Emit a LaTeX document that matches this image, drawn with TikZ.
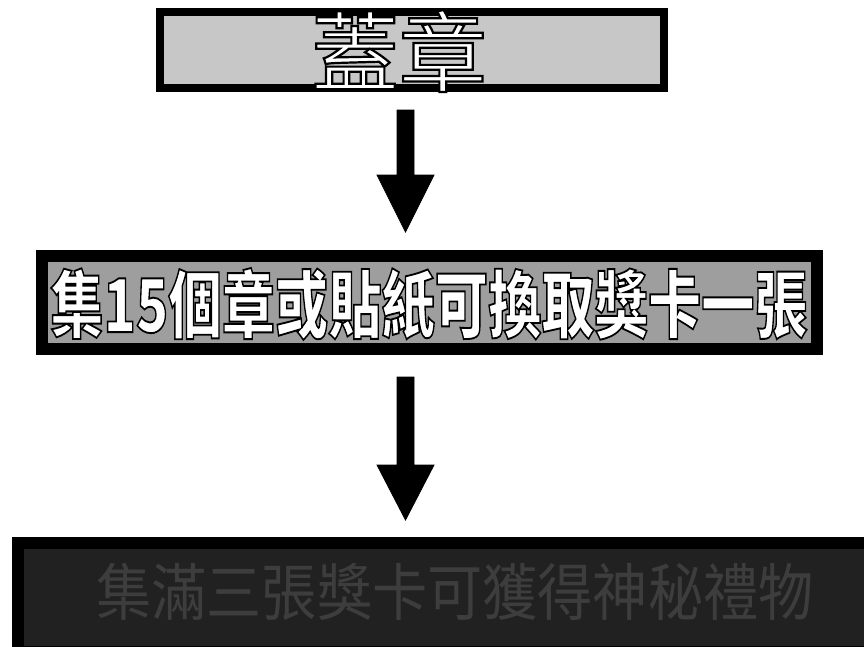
\documentclass[tikz,border=0pt]{standalone}
\usepackage{fontspec}
\usepackage{graphicx}
\newfontfamily\cjkout{Noto Sans CJK TC}[FakeBold=2.5]
\newfontfamily\cjkplain{Noto Sans CJK TC}
\newcommand\strokeblack{\special{pdf:literal direct 0 G}}
\usetikzlibrary{calc}
\tikzset{
  topbox/.style={draw=black, line width=8pt, fill=black!22, minimum width=504pt, minimum height=76pt, inner sep=0pt},
  midbox/.style={draw=black, line width=12pt, fill=black!38, minimum width=775pt, minimum height=93pt, inner sep=0pt},
  botbox/.style={draw=black, line width=12pt, fill=black!87, minimum width=852pt, minimum height=109pt, inner sep=0pt},
  txt/.style={inner sep=0pt, outer sep=0pt},
  blockarrow/.style={fill=black, draw=black, line width=0.8pt, line join=miter}
}
\begin{document}
\begin{tikzpicture}[x=1pt,y=-1pt]
\useasboundingbox (0,0) rectangle (864,646);
\clip (0,0) rectangle (864,646);
\fill[white] (0,0) rectangle (864,646);
% boxes
\node[topbox] (top) at (412,50) {};
\node[midbox] (mid) at (429.5,302.5) {};
\node[botbox] (bot) at (444,597.5) {};
% texts
\node[txt] (toptext) at (399,51) {\cjkout\fontsize{88}{88}\selectfont\color{white}\strokeblack 蓋章};
\node[txt] (midtext) at (429,304) {\scalebox{0.72}[1]{\cjkout\bfseries\fontsize{74}{74}\selectfont\color{white}\strokeblack 集15個章或貼紙可換取獎卡一張}};
\node[txt] (bottext) at (455,592) {\scalebox{0.89}[1]{\cjkplain\fontsize{62}{62}\selectfont\color{black!76}集滿三張獎卡可獲得神秘禮物}};
% arrows
\coordinate (a1s) at (405.5,110);
\coordinate (a1t) at (405.5,232);
\coordinate (a2s) at (405.5,377);
\coordinate (a2t) at (405.5,520);
\draw[blockarrow] ($(a1s)+(-8.5,0)$) -- ($(a1s)+(8.5,0)$) -- ($(a1t)+(8.5,-57)$) -- ($(a1t)+(28.5,-57)$) -- (a1t) -- ($(a1t)+(-28.5,-57)$) -- ($(a1t)+(-8.5,-57)$) -- cycle;
\draw[blockarrow] ($(a2s)+(-8.5,0)$) -- ($(a2s)+(8.5,0)$) -- ($(a2t)+(8.5,-55)$) -- ($(a2t)+(28.5,-55)$) -- (a2t) -- ($(a2t)+(-28.5,-55)$) -- ($(a2t)+(-8.5,-55)$) -- cycle;
\end{tikzpicture}
\end{document}
